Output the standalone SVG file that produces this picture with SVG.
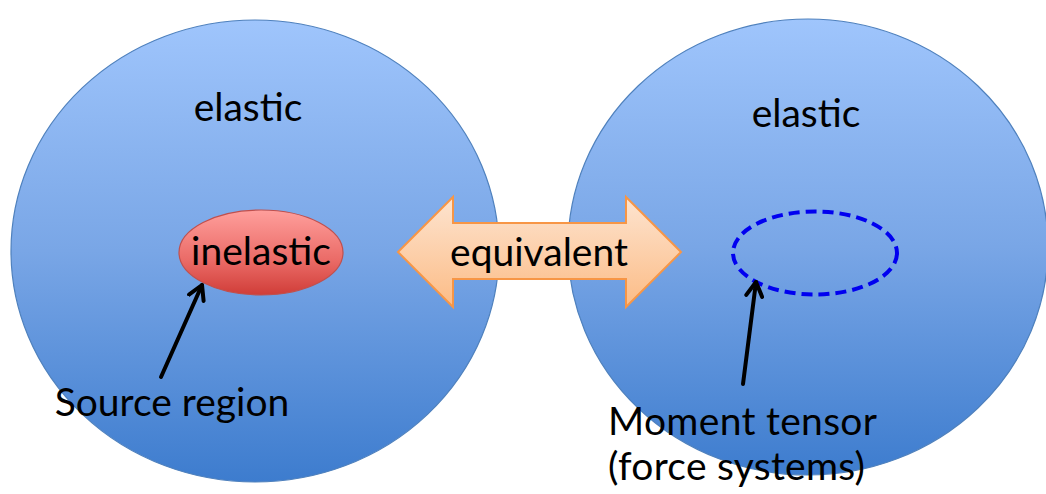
<svg xmlns="http://www.w3.org/2000/svg" width="1046" height="494" viewBox="0 0 1046 494">
<style>
.t{font-family:Lato,"Open Sans","Liberation Sans",sans-serif;fill:#000;font-size:39px;}
.big{stroke:#4f81bd;stroke-width:1.2;fill:url(#gBlue);}
.ptr{stroke:#000;stroke-width:4;fill:none;stroke-linecap:round;}
</style>
<defs>
<linearGradient id="gBlue" x1="0" y1="0" x2="0" y2="1">
<stop offset="0" stop-color="#9fc5fc"/>
<stop offset="0.5" stop-color="#79a6e6"/>
<stop offset="1" stop-color="#3d7cce"/>
</linearGradient>
<linearGradient id="gRed" x1="0" y1="0" x2="0" y2="1">
<stop offset="0" stop-color="#ff9f9c"/>
<stop offset="0.6" stop-color="#ea6a66"/>
<stop offset="1" stop-color="#d03d38"/>
</linearGradient>
<linearGradient id="gOrange" x1="0" y1="0" x2="0" y2="1">
<stop offset="0" stop-color="#fde4d0"/>
<stop offset="1" stop-color="#fcbc86"/>
</linearGradient>
<marker id="open" viewBox="0 0 10 10" refX="8" refY="5" markerWidth="5" markerHeight="5" orient="auto" markerUnits="strokeWidth">
<path d="M1,1 L8,5 L1,9" fill="none" stroke="#000" stroke-width="2" stroke-linecap="round" stroke-linejoin="round"/>
</marker>
</defs>
<g id="left-region">
<ellipse class="big" cx="255" cy="251" rx="244" ry="231"/>
<text class="t" x="248" y="121" text-anchor="middle">elastic</text>
</g>
<g id="right-region">
<ellipse class="big" cx="808" cy="247" rx="240" ry="228"/>
<text class="t" x="806" y="127" text-anchor="middle">elastic</text>
</g>
<g id="source">
<ellipse cx="261" cy="252.5" rx="82" ry="42.5" fill="url(#gRed)" stroke="#c0504d" stroke-width="1.2"/>
<text class="t" x="261" y="265" text-anchor="middle">inelastic</text>
</g>
<g id="moment">
<ellipse cx="815" cy="253" rx="82" ry="41.5" fill="none" stroke="#0000f0" stroke-width="4" stroke-dasharray="11 6"/>
</g>
<g id="equivalent">
<polygon points="398,252 453,197 453,223 626,223 626,197 681,252 626,307 626,279 453,279 453,307" fill="url(#gOrange)" stroke="#f79646" stroke-width="2" stroke-linejoin="miter"/>
<text class="t" x="539" y="266" text-anchor="middle">equivalent</text>
</g>
<g id="labels">
<text class="t" x="172" y="416" text-anchor="middle">Source region</text>
<text class="t" x="608" y="435" textLength="269">Moment tensor</text>
<text class="t" x="608" y="480" textLength="257">(force systems)</text>
</g>
<g id="connectors">
<line class="ptr" x1="161" y1="377" x2="202" y2="285" marker-end="url(#open)"/>
<line class="ptr" x1="743" y1="384" x2="756" y2="282" marker-end="url(#open)"/>
</g>
</svg>
